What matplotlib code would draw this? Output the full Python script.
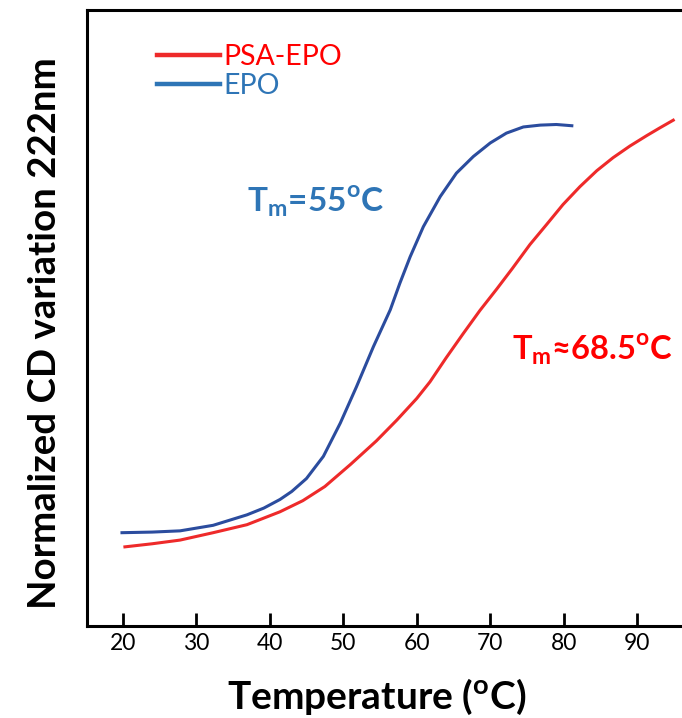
"""
Thermal unfolding of EPO vs PSA-EPO, CD signal at 222 nm
"""
import matplotlib
matplotlib.use('Agg')
import matplotlib.pyplot as plt

# temperature (C) / normalized CD signal
epo_temp = [19.9, 24.0, 27.8, 32.3, 36.9, 39.2, 41.4, 43.0, 45.0, 47.3, 49.6,
            51.8, 54.1, 56.4, 57.7, 59.1, 60.9, 63.2, 65.4, 67.7, 70.0,
            72.2, 74.5, 76.8, 79.0, 81.1]
epo_cd = [0.151, 0.152, 0.154, 0.163, 0.180, 0.191, 0.205, 0.218, 0.239, 0.275, 0.329,
          0.388, 0.453, 0.513, 0.556, 0.599, 0.648, 0.697, 0.735, 0.762, 0.784,
          0.800, 0.810, 0.813, 0.814, 0.812]

psa_temp = [20.3, 24.0, 27.8, 32.3, 36.9, 41.4, 44.5, 47.5, 51.0, 54.5,
            57.3, 60.0, 61.8, 64.0, 66.3, 68.6, 70.9, 73.0, 75.4, 77.7,
            79.9, 82.2, 84.5, 86.7, 89.0, 91.3, 93.0, 94.9]
psa_cd = [0.128, 0.133, 0.139, 0.151, 0.164, 0.185, 0.203, 0.226, 0.262, 0.300,
          0.334, 0.369, 0.396, 0.435, 0.474, 0.512, 0.547, 0.580, 0.619, 0.652,
          0.684, 0.713, 0.739, 0.760, 0.779, 0.796, 0.808, 0.821]

xticks = [20, 30, 40, 50, 60, 70, 80, 90]

RED = '#ee2a2a'
RED_TXT = '#ff0000'
BLUE = '#2b4c9e'
BLUE_TXT = '#2e75b6'


def main():
    plt.rcParams['font.family'] = ['Lato', 'DejaVu Sans']
    plt.rcParams['mathtext.fontset'] = 'custom'
    plt.rcParams['mathtext.rm'] = 'Lato'
    plt.rcParams['mathtext.bf'] = 'Lato:bold'

    fig = plt.figure(figsize=(6.82, 7.18), dpi=100)
    ax = fig.add_axes([0.128, 0.1286, 0.872, 0.8575])

    ax.plot(psa_temp, psa_cd, color=RED, lw=2.2, label='PSA-EPO',
            solid_joinstyle='round')
    ax.plot(epo_temp, epo_cd, color=BLUE, lw=2.2, label='EPO',
            solid_joinstyle='round')

    ax.set_xlim(15.18, 96.09)
    ax.set_ylim(0, 1)

    for side in ['left', 'bottom', 'top']:
        ax.spines[side].set_linewidth(2.2)
    ax.spines['right'].set_visible(False)

    ax.set_xticks(xticks)
    ax.tick_params(axis='x', direction='in', length=9.4, width=2.0,
                   labelsize=16.5, pad=5)
    ax.set_yticks([])

    ax.set_xlabel('Temperature ($^\\mathbf{o}$C)', fontsize=28, fontweight='bold')
    ax.xaxis.set_label_coords(0.487, -0.083)
    ax.set_ylabel('Normalized CD variation 222nm', fontsize=27.6, fontweight='bold')
    ax.yaxis.set_label_coords(-0.043, 0.4757)

    leg = ax.legend(loc='upper left', bbox_to_anchor=(0.117, 0.944),
                    frameon=False, fontsize=20.5, handlelength=2.2,
                    handletextpad=0.15, labelspacing=0.1, borderpad=0,
                    borderaxespad=0)
    for line in leg.get_lines():
        line.set_linewidth(3.2)
    leg.get_lines()[1].set_color(BLUE_TXT)
    leg.get_texts()[1].set_color(BLUE_TXT)
    leg.get_texts()[0].set_color(RED_TXT)

    ax.text(0.2685, 0.672, 'T$_\\mathbf{m}$=55$^\\mathbf{o}$C', transform=ax.transAxes,
            color=BLUE_TXT, fontsize=24, fontweight='bold', va='baseline')
    ax.text(0.7136, 0.4315, 'T$_\\mathbf{m}$\u224868.5$^\\mathbf{o}$C', transform=ax.transAxes,
            color=RED_TXT, fontsize=23.5, fontweight='bold', va='baseline')

    fig.savefig('out.png', dpi=100)


if __name__ == '__main__':
    main()
